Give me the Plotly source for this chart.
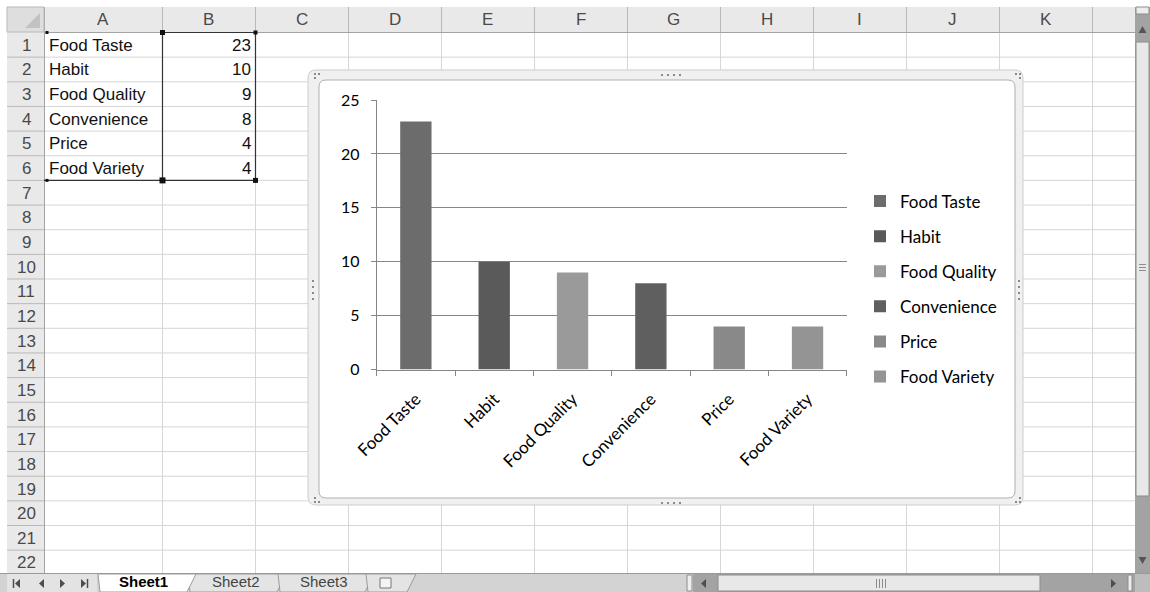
import plotly.graph_objects as go

W, H = 1150, 592

# ---------------- data ----------------
categories = ["Food Taste", "Habit", "Food Quality", "Convenience", "Price", "Food Variety"]
values = [23, 10, 9, 8, 4, 4]
bar_colors = ["#6c6c6c", "#5a5a5a", "#9a9a9a", "#5f5f5f", "#898989", "#949494"]
y_ticks = [0, 5, 10, 15, 20, 25]

col_letters = ["A", "B", "C", "D", "E", "F", "G", "H", "I", "J", "K"]
row_numbers = list(range(1, 23))
sheet_tabs = ["Sheet1", "Sheet2", "Sheet3"]

# ---------------- geometry (pixels) ----------------
col_edges = [44, 162, 255, 348, 441, 534, 627, 720, 813, 906, 999, 1092]
ROW_TOP, ROW_H = 32, 24.65
GRID_RIGHT, GRID_BOTTOM = 1135, 573


def X(px):
    return px / W


def Y(py):
    return 1 - py / H


shapes = []
annotations = []


def rect(x0, y0, x1, y1, fill=None, line=None, lw=1, layer="below"):
    d = dict(type="rect", xref="paper", yref="paper",
             x0=X(x0), x1=X(x1), y0=Y(y0), y1=Y(y1), layer=layer,
             line=dict(width=lw if line else 0, color=line or "rgba(0,0,0,0)"))
    if fill:
        d["fillcolor"] = fill
    shapes.append(d)


def path(points_list, color, lw=1, fill=None, closed=False, layer="below"):
    p = ""
    for pts in points_list:
        p += "M" + " L".join(f"{X(a):.5f},{Y(b):.5f}" for a, b in pts)
        if closed:
            p += " Z"
        p += " "
    d = dict(type="path", xref="paper", yref="paper", path=p.strip(), layer=layer,
             line=dict(width=lw, color=color))
    d["fillcolor"] = fill if fill else "rgba(0,0,0,0)"
    shapes.append(d)


def rrect(x0, y0, x1, y1, r, fill, line, lw=1):
    def P(a, b):
        return f"{X(a):.5f},{Y(b):.5f}"
    p = (f"M{P(x0 + r, y0)} L{P(x1 - r, y0)} Q{P(x1, y0)} {P(x1, y0 + r)} "
         f"L{P(x1, y1 - r)} Q{P(x1, y1)} {P(x1 - r, y1)} "
         f"L{P(x0 + r, y1)} Q{P(x0, y1)} {P(x0, y1 - r)} "
         f"L{P(x0, y0 + r)} Q{P(x0, y0)} {P(x0 + r, y0)} Z")
    shapes.append(dict(type="path", xref="paper", yref="paper", path=p, layer="below",
                       fillcolor=fill, line=dict(width=lw, color=line)))


def text(x, y, s, size=17, color="#000", xanchor="center", family="Liberation Sans", bold=False):
    if bold:
        s = f"<b>{s}</b>"
    annotations.append(dict(x=X(x), y=Y(y), xref="paper", yref="paper", text=s, showarrow=False,
                            xanchor=xanchor, yanchor="middle",
                            font=dict(family=family, size=size, color=color)))


def row_edge(k):
    return ROW_TOP + ROW_H * k


# ---------------- spreadsheet grid ----------------
grid_color = "#d6d6d6"
vlines = [[(c + 0.5, ROW_TOP), (c + 0.5, GRID_BOTTOM)] for c in col_edges[1:]]
hlines = [[(44, row_edge(k) + 0.5), (GRID_RIGHT, row_edge(k) + 0.5)] for k in range(1, 23)
          if row_edge(k) < GRID_BOTTOM]
path(vlines + hlines, grid_color, 1)

# column header
rect(7, 7, GRID_RIGHT, 32, fill="#e9e9e9")
path([[(c + 0.5, 7), (c + 0.5, 32)] for c in col_edges], "#b9b9b9", 1)
path([[(7, 32.5), (GRID_RIGHT, 32.5)]], "#a3a3a3", 1)
# row header
rect(7, 32, 44, GRID_BOTTOM, fill="#e9e9e9")
path([[(7, row_edge(k) + 0.5), (44, row_edge(k) + 0.5)] for k in range(1, 23)
      if row_edge(k) < GRID_BOTTOM], "#b9b9b9", 1)
path([[(44.5, 7), (44.5, GRID_BOTTOM)]], "#a3a3a3", 1)
# select-all corner
rect(7, 7, 44, 32, fill="#dedede", line="#b9b9b9")
path([[(40, 13), (40, 28), (25, 28)]], "#bdbdbd", 0, fill="#c2c2c2", closed=True)

for i, letter in enumerate(col_letters):
    text((col_edges[i] + col_edges[i + 1]) / 2, 20, letter, size=17, color="#4a4a4a")
for k in row_numbers:
    yc = ROW_TOP + ROW_H * (k - 0.5)
    if yc < GRID_BOTTOM:
        text(26, yc + 1, str(k), size=17, color="#4a4a4a")

# cell contents
for i, (c, v) in enumerate(zip(categories, values)):
    yc = ROW_TOP + ROW_H * (i + 0.5) + 1
    text(47, yc, c, size=17, color="#111", xanchor="left")
    text(253, yc, str(v), size=17, color="#111", xanchor="right")

# data range outline + handles
sel_bottom = row_edge(6)
path([[(162.5, 32), (162.5, sel_bottom)], [(255.5, 32), (255.5, sel_bottom)],
      [(44, sel_bottom + 0.5), (256, sel_bottom + 0.5)], [(162, 32.5), (256, 32.5)]],
     "#333333", 1.2)
for (hx, hy, s) in [(47, 32.5, 3), (162.5, 32.5, 5), (255.5, 32.5, 4),
                    (47, sel_bottom + 0.5, 3), (162.5, sel_bottom + 0.5, 6),
                    (255.5, sel_bottom + 0.5, 5)]:
    rect(hx - s / 2, hy - s / 2, hx + s / 2, hy + s / 2, fill="#111")

# ---------------- chart frame ----------------
rrect(308, 70, 1023, 505, 8, "#f0f0f0", "#cdcdcd", 1)
rrect(319, 80, 1015, 498, 7, "#ffffff", "#b0b0b0", 1)
dot_c = "#8a8a8a"
for (dx, dy) in [(315, 74), (319, 74), (315, 78),
                 (315, 502), (319, 502), (315, 498),
                 (1016, 74), (1020, 74), (1020, 78),
                 (1016, 502), (1020, 502), (1020, 498)]:
    rect(dx - 1, dy - 1, dx + 1, dy + 1, fill=dot_c)
for i in range(4):
    rect(661 + 6 * i, 74, 663 + 6 * i, 76, fill=dot_c)
    rect(661 + 6 * i, 502, 663 + 6 * i, 504, fill=dot_c)
    rect(312, 280 + 6 * i, 314, 282 + 6 * i, fill=dot_c)
    rect(1018, 280 + 6 * i, 1020, 282 + 6 * i, fill=dot_c)

# ---------------- vertical scrollbar ----------------
rect(1135, 7, 1150, GRID_BOTTOM, fill="#a3a3a3")
rect(1136, 7, 1149, 14, fill="#ececec", line="#8c8c8c")
path([[(1138.5, 33), (1146.5, 33), (1142.5, 26)]], "#555", 0, fill="#555", closed=True)
rect(1136, 42, 1149, 496, fill="#e8e8e8", line="#8c8c8c")
path([[(1139, 264.5), (1146, 264.5)], [(1139, 267.5), (1146, 267.5)], [(1139, 270.5), (1146, 270.5)]],
     "#8c8c8c", 1)
path([[(1138.5, 557), (1146.5, 557), (1142.5, 564)]], "#555", 0, fill="#555", closed=True)

# ---------------- bottom tab bar ----------------
rect(0, GRID_BOTTOM, W, H, fill="#d3d3d3")
path([[(0, GRID_BOTTOM + 0.5), (W, GRID_BOTTOM + 0.5)]], "#9a9a9a", 1)
rect(7, 574, 97, 592, fill="#e3e3e3")
tri_c = "#4d4d4d"
path([[(20, 579), (20, 588), (15, 583.5)]], tri_c, 0, fill=tri_c, closed=True)
path([[(13.5, 579), (13.5, 588)]], tri_c, 1.5)
path([[(44, 579), (44, 588), (39, 583.5)]], tri_c, 0, fill=tri_c, closed=True)
path([[(60, 579), (60, 588), (65, 583.5)]], tri_c, 0, fill=tri_c, closed=True)
path([[(81, 579), (81, 588), (86, 583.5)]], tri_c, 0, fill=tri_c, closed=True)
path([[(87.5, 579), (87.5, 588)]], tri_c, 1.5)
# tabs
tab_x = [(188, 286), (278, 374)]
for (a, b) in tab_x:
    path([[(a, 574), (b, 574), (b - 9, 592), (a + 2, 592)]], "#9a9a9a", 1, fill="#e4e4e4", closed=True)
path([[(98, 574), (196, 574), (187, 592), (100, 592)]], "#9a9a9a", 1, fill="#ffffff", closed=True)
text(143, 581.5, sheet_tabs[0], size=15, color="#000", bold=True)
text(236, 581.5, sheet_tabs[1], size=15, color="#444")
text(324, 581.5, sheet_tabs[2], size=15, color="#444")
path([[(366, 574), (416, 574), (407, 592), (368, 592)]], "#9a9a9a", 1, fill="#e4e4e4", closed=True)
rect(380, 578, 391, 588, fill="#f4f4f4", line="#777")
# horizontal scrollbar
rect(687, 575, 692, 591, fill="#eeeeee", line="#8c8c8c")
rect(693, 574, 1135, 592, fill="#a3a3a3")
path([[(706, 579), (706, 588), (701, 583.5)]], tri_c, 0, fill=tri_c, closed=True)
rect(718, 575, 1040, 591, fill="#e8e8e8", line="#8c8c8c")
path([[(876.5, 579), (876.5, 588)], [(879.5, 579), (879.5, 588)], [(882.5, 579), (882.5, 588)],
      [(885.5, 579), (885.5, 588)]], "#8c8c8c", 1)
path([[(1111, 579), (1111, 588), (1116, 583.5)]], tri_c, 0, fill=tri_c, closed=True)
rect(1128, 575, 1132, 591, fill="#eeeeee", line="#8c8c8c")
rect(1135, 574, 1150, 592, fill="#bdbdbd")

# ---------------- chart ----------------
fig = go.Figure()
for c, v, col in zip(categories, values, bar_colors):
    fig.add_trace(go.Bar(x=[c], y=[v], name=c, width=0.4, legendgroup=c,
                         marker=dict(color=col, line=dict(width=0)),
                         hoverinfo="skip"))

chart_font = dict(family="Lato", size=17, color="#000")
ytick_font = dict(family="Lato", size=16, color="#000")
axis_c = "#868686"

fig.update_layout(
    width=W, height=H,
    margin=dict(l=0, r=0, t=0, b=0, pad=0, autoexpand=False),
    paper_bgcolor="#ffffff",
    plot_bgcolor="rgba(0,0,0,0)",
    barmode="overlay",
    showlegend=True,
    hovermode=False,
    font=chart_font,
    xaxis=dict(domain=[X(376.7), X(846.7)], type="category",
               categoryorder="array", categoryarray=categories,
               range=[-0.5, len(categories) - 0.5],
               showline=True, linecolor=axis_c, linewidth=1,
               ticks="outside", ticklen=5, tickcolor=axis_c, tickson="boundaries",
               tickangle=-45, showgrid=False, tickfont=chart_font, fixedrange=True,
               ticklabelstandoff=12, automargin=False),
    yaxis=dict(domain=[Y(369.5), Y(100)], range=[0, 25], tickvals=y_ticks,
               showline=True, linecolor=axis_c, linewidth=1,
               ticks="outside", ticklen=5, tickcolor=axis_c,
               showgrid=True, gridcolor=axis_c, gridwidth=1, zeroline=False,
               tickfont=ytick_font, ticklabelstandoff=8, fixedrange=True,
               automargin=False),
    legend=dict(x=X(860), y=Y(289), xanchor="left", yanchor="middle",
                bgcolor="rgba(0,0,0,0)", font=chart_font, tracegroupgap=10,
                traceorder="grouped", itemclick=False, itemdoubleclick=False),
    shapes=shapes,
    annotations=annotations,
)

fig.write_html("out.html")
